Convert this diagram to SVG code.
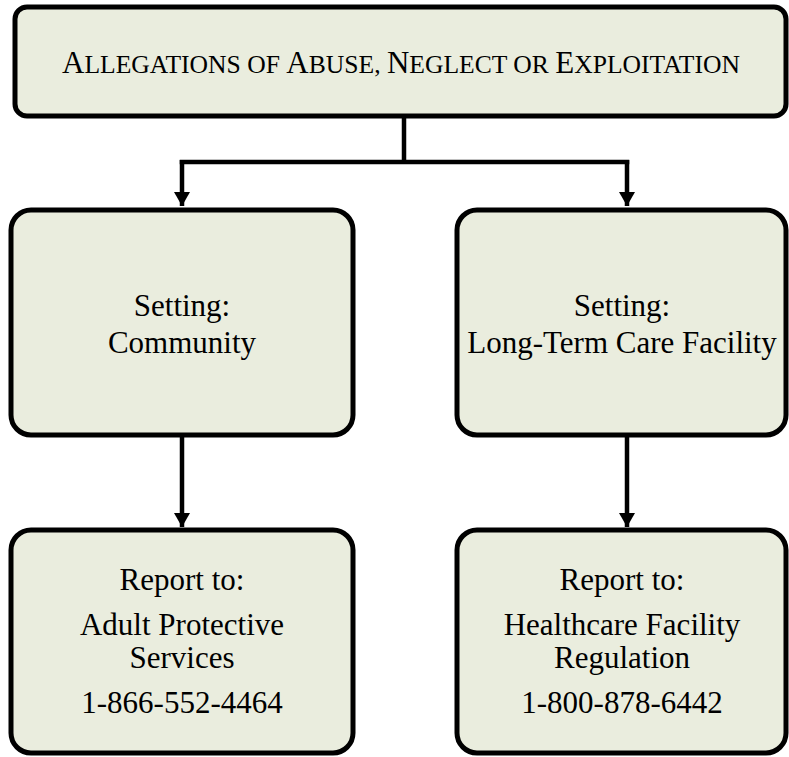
<svg xmlns="http://www.w3.org/2000/svg" width="789" height="757" viewBox="0 0 789 757">
<defs>
<style>
.box{fill:#EAEDDE;stroke:#000;stroke-width:5}
.t{font-family:"Liberation Serif","Times New Roman",serif;font-size:31px;fill:#000;text-anchor:middle}
.sc{font-size:25.6px}
.conn{fill:none;stroke:#000;stroke-width:4.5}
</style>
<marker id="arr" markerWidth="14" markerHeight="16" viewBox="0 0 14 16" refX="14" refY="8" orient="auto" markerUnits="userSpaceOnUse">
<path d="M0,0 L14,8 L0,16 Z" fill="#000"/>
</marker>
</defs>
<rect width="789" height="757" fill="#fff"/>
<g id="connectors">
<path class="conn" d="M404,118 V162"/>
<path class="conn" d="M182,162 H627" stroke-linecap="square"/>
<path class="conn" d="M182,160 V206" marker-end="url(#arr)"/>
<path class="conn" d="M627,160 V206" marker-end="url(#arr)"/>
<path class="conn" d="M182,437 V527" marker-end="url(#arr)"/>
<path class="conn" d="M627,437 V527" marker-end="url(#arr)"/>
</g>
<g id="node-allegations">
<rect class="box" x="15" y="7" width="771" height="109" rx="12"/>
<text class="t" x="401" y="73">A<tspan class="sc">LLEGATIONS OF </tspan>A<tspan class="sc">BUSE, </tspan>N<tspan class="sc">EGLECT OR </tspan>E<tspan class="sc">XPLOITATION</tspan></text>
</g>
<g id="node-community">
<rect class="box" x="11" y="210" width="342" height="225" rx="20"/>
<text class="t" x="182" y="316">Setting:</text>
<text class="t" x="182" y="353">Community</text>
</g>
<g id="node-ltc">
<rect class="box" x="457" y="210" width="329" height="225" rx="20"/>
<text class="t" x="622" y="316">Setting:</text>
<text class="t" x="622" y="353">Long-Term Care Facility</text>
</g>
<g id="node-aps">
<rect class="box" x="11" y="530" width="342" height="223" rx="20"/>
<text class="t" x="182" y="590">Report to:</text>
<text class="t" x="182" y="635">Adult Protective</text>
<text class="t" x="182" y="668">Services</text>
<text class="t" x="182" y="713">1-866-552-4464</text>
</g>
<g id="node-hfr">
<rect class="box" x="457" y="530" width="329" height="223" rx="20"/>
<text class="t" x="622" y="590">Report to:</text>
<text class="t" x="622" y="635">Healthcare Facility</text>
<text class="t" x="622" y="668">Regulation</text>
<text class="t" x="622" y="713">1-800-878-6442</text>
</g>
</svg>
